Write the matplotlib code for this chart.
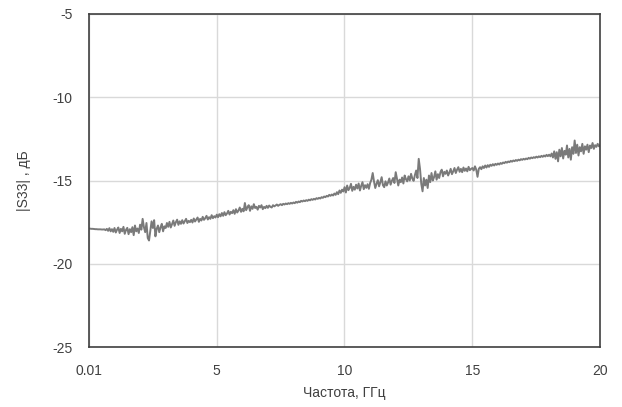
import numpy as np
import matplotlib
matplotlib.use("Agg")
import matplotlib.pyplot as plt

plt.rcParams['font.family'] = ['Liberation Sans', 'DejaVu Sans']
plt.rcParams['axes.unicode_minus'] = False

# |S33| in dB at ~0.05 GHz steps (one row per GHz)
s33 = [
    -17.88, -17.89, -17.90, -17.90, -17.91, -17.92, -17.92, -17.93, -17.93, -17.93,
    -17.94, -17.94, -17.93, -17.98, -17.90, -18.02, -17.86, -18.05, -17.92, -18.08,
    -17.85, -18.12, -17.95, -17.82, -18.15, -17.90, -18.05, -17.78, -18.20, -17.96,
    -17.84, -18.22, -17.92, -18.10, -17.80, -18.28, -17.70, -18.05, -17.88, -18.15,
    -17.65, -17.95, -17.30, -17.80, -18.10, -17.55, -18.45, -18.60, -18.00, -17.45,
    -17.85, -17.38, -18.35, -17.90, -17.70, -18.10, -17.82, -17.60, -18.05, -17.75,
    -17.85, -17.55, -17.78, -17.48, -17.82, -17.62, -17.40, -17.72, -17.50, -17.35,
    -17.66, -17.45, -17.60, -17.38, -17.58, -17.44, -17.30, -17.55, -17.42, -17.50,
    -17.36, -17.52, -17.28, -17.46, -17.34, -17.22, -17.48, -17.30, -17.40, -17.18,
    -17.36, -17.26, -17.12, -17.34, -17.20, -17.30, -17.08, -17.26, -17.14, -17.22,
    -17.05, -17.20, -17.02, -17.15, -16.95, -17.12, -16.90, -17.08, -16.98, -16.82,
    -17.04, -16.88, -16.96, -16.78, -17.00, -16.72, -16.92, -16.80, -16.62, -16.88,
    -16.70, -16.85, -16.35, -16.78, -16.60, -16.48, -16.82, -16.55, -16.70, -16.42,
    -16.65, -16.58, -16.75, -16.52, -16.62, -16.48, -16.72, -16.58, -16.66, -16.52,
    -16.64, -16.50, -16.58, -16.62, -16.48, -16.55, -16.50, -16.44, -16.52, -16.46,
    -16.42, -16.48, -16.40, -16.44, -16.38, -16.42, -16.36, -16.40, -16.34, -16.38,
    -16.32, -16.36, -16.28, -16.33, -16.26, -16.30, -16.22, -16.26, -16.20, -16.24,
    -16.18, -16.22, -16.15, -16.19, -16.12, -16.16, -16.10, -16.14, -16.06, -16.10,
    -16.04, -16.08, -16.00, -16.04, -15.96, -16.00, -15.92, -15.96, -15.86, -15.92,
    -15.84, -15.90, -15.78, -15.86, -15.70, -15.82, -15.60, -15.74, -15.55, -15.66,
    -15.40, -15.72, -15.30, -15.58, -15.45, -15.20, -15.62, -15.38, -15.55, -15.25,
    -15.48, -15.18, -15.60, -15.32, -15.10, -15.52, -15.28, -15.44, -15.22, -15.50,
    -15.15, -14.95, -14.55, -15.05, -15.45, -15.20, -14.98, -15.35, -15.10, -14.80,
    -15.28, -15.40, -15.05, -15.30, -15.12, -14.88, -15.25, -15.02, -14.85, -15.15,
    -14.50, -14.90, -15.30, -14.95, -15.10, -14.82, -15.18, -14.70, -14.92, -15.05,
    -14.75, -15.00, -14.60, -14.88, -15.02, -14.68, -14.40, -14.85, -13.70, -14.30,
    -15.20, -15.65, -14.85, -15.30, -14.95, -15.45, -14.70, -15.10, -14.55, -15.00,
    -14.80, -14.45, -14.95, -14.62, -14.85, -14.50, -14.35, -14.75, -14.48, -14.60,
    -14.40, -14.70, -14.52, -14.30, -14.62, -14.45, -14.25, -14.55, -14.35, -14.20,
    -14.48, -14.30, -14.50, -14.22, -14.42, -14.28, -14.45, -14.18, -14.38, -14.30,
    -14.25, -14.40, -14.15, -14.35, -14.78, -14.30, -14.20, -14.32, -14.15, -14.25,
    -14.10, -14.22, -14.08, -14.18, -14.05, -14.12, -14.02, -14.10, -14.00, -14.06,
    -13.98, -14.04, -13.95, -14.00, -13.92, -13.96, -13.88, -13.93, -13.86, -13.90,
    -13.82, -13.87, -13.80, -13.84, -13.77, -13.82, -13.75, -13.79, -13.72, -13.76,
    -13.70, -13.74, -13.68, -13.72, -13.64, -13.69, -13.62, -13.66, -13.60, -13.64,
    -13.57, -13.62, -13.55, -13.60, -13.52, -13.58, -13.50, -13.56, -13.46, -13.54,
    -13.45, -13.55, -13.38, -13.62, -13.25, -13.70, -13.30, -13.85, -13.15, -13.55,
    -13.05, -13.68, -13.22, -13.45, -12.90, -13.62, -13.10, -13.75, -13.00, -13.40,
    -12.60, -13.35, -12.85, -13.50, -13.00, -13.25, -12.80, -13.40, -12.95, -13.15,
    -12.85, -13.30, -12.90, -13.05, -12.75, -13.10, -12.88, -12.98, -12.80, -12.95,
    -12.88,
]
freq = np.linspace(0.01, 20, len(s33))

xticks = [0.01, 5, 10, 15, 20]
xtick_labels = ['0.01', '5', '10', '15', '20']
yticks = [-25, -20, -15, -10, -5]

fig = plt.figure(figsize=(6.22, 4.07), dpi=100)
ax = fig.add_axes([0.143, 0.147, 0.822, 0.819])

ax.plot(freq, s33, color='#7a7a7a', lw=1.4)

ax.set_xlim(0.01, 20)
ax.set_ylim(-25, -5)
ax.set_xticks(xticks)
ax.set_xticklabels(xtick_labels)
ax.set_yticks(yticks)
ax.grid(True, color='#d9d9d9', lw=1)
ax.set_axisbelow(True)
ax.tick_params(length=0, labelsize=10, colors='#404040', pad=12)
for sp in ax.spines.values():
    sp.set_color('#404040')
    sp.set_linewidth(1.2)

ax.set_xlabel('Частота, ГГц', fontsize=10, color='#404040', labelpad=6)
ax.set_ylabel('|S33| , дБ', fontsize=10, color='#404040', labelpad=15)

fig.savefig('out.png', dpi=100)
